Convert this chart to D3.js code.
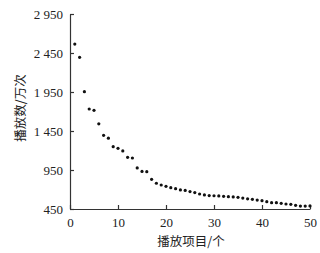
<!DOCTYPE html>
<html lang="zh">
<head>
    <meta charset="UTF-8">
    <script src="https://d3js.org/d3.v7.min.js"></script>
    <style>
        body { margin: 0; background: #fff; }
        text { font-family: "Liberation Serif", "Noto Sans CJK SC", serif; }
    </style>
</head>
<body>
    <svg id="chart" width="320" height="253"></svg>
    <script>
        // 播放项目序号 1..50 与播放数(万次)
        const items = d3.range(1, 51);
        const plays = [
            2565, 2395, 1954, 1732, 1715, 1542, 1395, 1358, 1249, 1228,
            1194, 1113, 1104, 976, 932, 928, 831, 780, 758, 741,
            724, 711, 694, 688, 673, 660, 642, 630, 622, 620,
            617, 612, 608, 605, 600, 590, 580, 574, 565, 557,
            544, 531, 531, 523, 514, 510, 497, 488, 488, 490
        ];
        const yTicks = [450, 950, 1450, 1950, 2450, 2950];
        const xTicks = [0, 10, 20, 30, 40, 50];
        const data = items.map((d, i) => ({ n: d, v: plays[i] }));

        const svg = d3.select("#chart");
        const x = d3.scaleLinear().domain([0, 50]).range([70, 310]);
        const y = d3.scaleLinear().domain([450, 2950]).range([209, 14]);

        const fmt = d => d3.format(",")(d).replace(",", " ");

        const gy = svg.append("g")
            .attr("transform", "translate(70,0)")
            .call(d3.axisLeft(y).tickValues(yTicks).tickSize(-4).tickSizeOuter(0).tickPadding(7).tickFormat(fmt));
        const gx = svg.append("g")
            .attr("transform", "translate(0,209)")
            .call(d3.axisBottom(x).tickValues(xTicks).tickSize(-4).tickSizeOuter(0).tickPadding(9));

        [gy, gx].forEach(g => {
            g.selectAll("path, line").attr("stroke", "#333").attr("stroke-width", 1.2);
            g.selectAll("text").attr("fill", "#222")
                .style("font-family", "'Liberation Serif', serif").style("font-size", "13px");
        });

        svg.selectAll(".dot")
            .data(data)
            .enter().append("circle")
            .attr("class", "dot")
            .attr("cx", d => x(d.n))
            .attr("cy", d => y(d.v))
            .attr("r", 1.6)
            .attr("fill", "#111");

        svg.append("text")
            .attr("x", 191)
            .attr("y", 246)
            .attr("text-anchor", "middle")
            .style("font-family", "'Noto Sans CJK SC', sans-serif")
            .style("font-size", "12.5px")
            .attr("fill", "#222")
            .text("播放项目/个");

        svg.append("text")
            .attr("transform", "translate(25,108) rotate(-90)")
            .attr("text-anchor", "middle")
            .style("font-family", "'Noto Sans CJK SC', sans-serif")
            .style("font-size", "12.5px")
            .attr("fill", "#222")
            .text("播放数/万次");
    </script>
</body>
</html>
